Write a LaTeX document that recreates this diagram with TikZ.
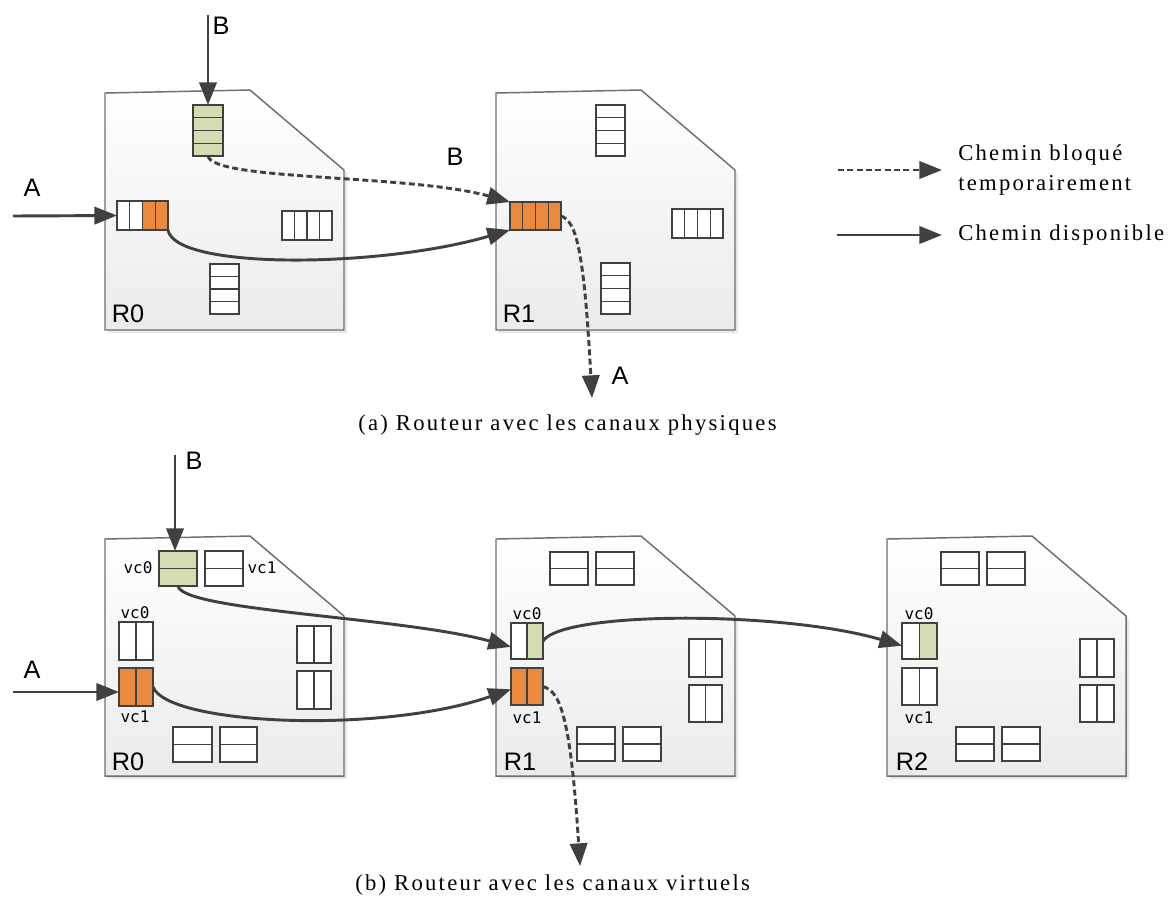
\documentclass[tikz,border=0pt]{standalone}
\usepackage{fontspec}
\setmainfont{Liberation Serif}
\newfontfamily\lblfont{Liberation Sans}
\newfontfamily\vcfont{DejaVu Sans Mono}
\newfontfamily\capfont[LetterSpace=10]{Liberation Serif}
\usetikzlibrary{calc,fit,arrows.meta}

\definecolor{qorange}{HTML}{EB8A3E}
\definecolor{qgreen}{HTML}{D4DCB2}
\definecolor{qline}{HTML}{404040}
\definecolor{rline}{HTML}{6E6E6E}
\definecolor{arr}{HTML}{404040}

% side-by-side cells: #1 number, #2 first filled cell, #3 colour
\newcommand\colcells[3]{%
  \foreach \k in {1,...,#1}{%
    \ifnum\k<#2\relax\else
      \fill[#3] ($(path picture bounding box.south west)!{(\k-1)/#1}!(path picture bounding box.south east)$) rectangle ($(path picture bounding box.north west)!{\k/#1}!(path picture bounding box.north east)$);%
    \fi}%
  \foreach \k in {2,...,#1}{%
    \draw[qdiv] ($(path picture bounding box.south west)!{(\k-1)/#1}!(path picture bounding box.south east)$) -- ($(path picture bounding box.north west)!{(\k-1)/#1}!(path picture bounding box.north east)$);}%
}
% stacked cells
\newcommand\rowcells[3]{%
  \foreach \k in {1,...,#1}{%
    \ifnum\k<#2\relax\else
      \fill[#3] ($(path picture bounding box.north west)!{(\k-1)/#1}!(path picture bounding box.south west)$) rectangle ($(path picture bounding box.north east)!{\k/#1}!(path picture bounding box.south east)$);%
    \fi}%
  \foreach \k in {2,...,#1}{%
    \draw[qdiv] ($(path picture bounding box.north west)!{(\k-1)/#1}!(path picture bounding box.south west)$) -- ($(path picture bounding box.north east)!{(\k-1)/#1}!(path picture bounding box.south east)$);}%
}
\newcommand\routershape[2]{%
  \begin{scope}[shift={(#1,#2)}]
    \fill[black!9,shift={(3,3)}] (0,0) -- (145,-3) -- (239,77) -- (239,237) -- (0,237) -- cycle;
    \path[router] (0,0) -- (145,-3) -- (239,77) -- (239,237) -- (0,237) -- cycle;
  \end{scope}}

\tikzset{
  router/.style={draw=rline, line width=1.1pt, top color=white, bottom color=black!8},
  qb/.style={draw=qline, line width=1.3pt, fill=white, inner sep=0pt, outer sep=0pt},
  qdiv/.style={qline, line width=1.1pt},
  cols/.style n args={3}{path picture={\colcells{#1}{#2}{#3}}},
  rows/.style n args={3}{path picture={\rowcells{#1}{#2}{#3}}},
  conn/.style={draw=arr, line width=2.2pt, -{Triangle[length=17pt,width=13pt]}},
  blocked/.style={conn, dash pattern=on 4.5pt off 2.5pt},
  lbl/.style={font=\lblfont\fontsize{19}{22}\selectfont, inner sep=0pt},
  vc/.style={font=\vcfont\fontsize{12}{14}\selectfont, inner sep=0pt},
  capt/.style={font=\capfont\fontsize{17}{22.5}\selectfont, inner sep=0pt, anchor=west},
}

\begin{document}
\begin{tikzpicture}[x=0.75pt,y=-0.75pt]
\useasboundingbox (0,0) rectangle (1173,901);

% ---------- routers ----------
\routershape{105}{93}
\routershape{496}{93}
\routershape{105}{539}
\routershape{496}{539}
\routershape{887}{539}

% ---------- (a) queues ----------
\node[qb, rows={4}{1}{qgreen}, fit={(193,105)(223,156)}] (g0) {};
\node[qb, cols={4}{3}{qorange}, fit={(117,201)(168,230)}] (a0) {};
\node[qb, cols={4}{9}{white}, fit={(282,211)(332,240)}] (r0e) {};
\node[qb, rows={4}{9}{white}, fit={(210,264)(239,314)}] (r0s) {};

\node[qb, rows={4}{9}{white}, fit={(596,105)(625,156)}] (r1n) {};
\node[qb, cols={4}{1}{qorange}, fit={(510,202)(561,230)}] (o1) {};
\node[qb, cols={4}{9}{white}, fit={(672,209)(723,238)}] (r1e) {};
\node[qb, rows={4}{9}{white}, fit={(601,263)(630,314)}] (r1s) {};

% ---------- (b) queues ----------
\node[qb, rows={2}{1}{qgreen}, fit={(159,551)(197,586)}] (gb0) {};
\node[qb, rows={2}{9}{white}, fit={(205,551)(243,586)}] (b0n2) {};
\node[qb, cols={2}{9}{white}, fit={(119,622)(153,660)}] (b0v0) {};
\node[qb, cols={2}{1}{qorange}, fit={(119,668)(153,706)}] (b0v1) {};
\node[qb, cols={2}{9}{white}, fit={(297,626)(331,663)}] (b0e1) {};
\node[qb, cols={2}{9}{white}, fit={(297,671)(331,709)}] (b0e2) {};
\node[qb, rows={2}{9}{white}, fit={(173,727)(212,762)}] (b0s1) {};
\node[qb, rows={2}{9}{white}, fit={(220,727)(257,762)}] (b0s2) {};

\node[qb, rows={2}{9}{white}, fit={(550,552)(588,585)}] (b1n1) {};
\node[qb, rows={2}{9}{white}, fit={(596,552)(634,585)}] (b1n2) {};
\node[qb, cols={2}{2}{qgreen}, fit={(511,623)(543,659)}] (b1v0) {};
\node[qb, cols={2}{1}{qorange}, fit={(511,668)(543,705)}] (b1v1) {};
\node[qb, cols={2}{9}{white}, fit={(689,639)(722,677)}] (b1e1) {};
\node[qb, cols={2}{9}{white}, fit={(689,685)(722,722)}] (b1e2) {};
\node[qb, rows={2}{9}{white}, fit={(577,727)(615,761)}] (b1s1) {};
\node[qb, rows={2}{9}{white}, fit={(623,727)(661,761)}] (b1s2) {};

\node[qb, rows={2}{9}{white}, fit={(941,552)(979,585)}] (b2n1) {};
\node[qb, rows={2}{9}{white}, fit={(987,552)(1025,585)}] (b2n2) {};
\node[qb, cols={2}{2}{qgreen}, fit={(902,623)(937,659)}] (b2v0) {};
\node[qb, cols={2}{9}{white}, fit={(902,668)(937,705)}] (b2v1) {};
\node[qb, cols={2}{9}{white}, fit={(1080,639)(1114,677)}] (b2e1) {};
\node[qb, cols={2}{9}{white}, fit={(1080,685)(1114,722)}] (b2e2) {};
\node[qb, rows={2}{9}{white}, fit={(956,727)(994,761)}] (b2s1) {};
\node[qb, rows={2}{9}{white}, fit={(1002,727)(1040,761)}] (b2s2) {};

% ---------- free ends ----------
\coordinate (Bin) at (208,15);
\coordinate (Ain) at (13,216);
\coordinate (Aout) at (592,398);
\coordinate (Bin2) at (175,455);
\coordinate (Ain2) at (13,692);
\coordinate (Aout2) at (580,866);
\coordinate (L1a) at (838,170);
\coordinate (L1b) at (942,170);
\coordinate (L2a) at (837,235);
\coordinate (L2b) at (942,235);

% ---------- connectors (a) ----------
\draw[conn] (Bin) -- (g0.north);
\draw[conn] (Ain) -- (a0.west);
\draw[blocked] (g0.south) .. controls +(5,25) and +(-100,-28) .. (o1.north west);
\draw[conn] (a0.south east) .. controls +(7,40) and +(-130,38) .. (o1.south west);
\draw[blocked] (o1.east) .. controls +(15,5) and +(-8,-150) .. (Aout);

% ---------- connectors (b) ----------
\draw[conn] (Bin2) -- (Bin2 |- gb0.north);
\draw[conn] (Ain2) -- (Ain2 -| b0v1.west);
\draw[conn] (gb0.south) .. controls +(5,25) and +(-110,-30) .. (b1v0.200);
\draw[conn] (b0v1.east) .. controls +(15,38) and +(-130,45) .. (b1v1.190);
\draw[blocked] (b1v1.east) .. controls +(15,5) and +(-10,-160) .. (Aout2);
\draw[conn] (b1v0.east) .. controls +(20,-30) and +(-120,-35) .. (b2v0.195);

% ---------- legend ----------
\draw[blocked] (L1a) -- (L1b);
\draw[conn] (L2a) -- (L2b);
\node[capt, align=left] (lg1) at (958,170) {Chemin bloqué\\temporairement};
\node[capt] (lg2) at (958,235) {Chemin disponible};

% ---------- labels (a) ----------
\node[lbl] (tB) at (221,26) {B};
\node[lbl] (tA) at (32,188) {A};
\node[lbl] (tR0) at (128,314) {R0};
\node[lbl] (tB1) at (455,157) {B};
\node[lbl] (tR1) at (519,314) {R1};
\node[lbl] (tA1) at (620,376) {A};
\node[capt] (capa) at (358,425) {(a) Routeur avec les canaux physiques};

% ---------- labels (b) ----------
\node[lbl] (uB) at (194,461) {B};
\node[lbl] (uA) at (32,670) {A};
\node[lbl] (uR0) at (128,762) {R0};
\node[lbl] (uR1) at (520,762) {R1};
\node[lbl] (uR2) at (912,762) {R2};
\node[vc] (v1) at (138,568) {vc0};
\node[vc] (v2) at (262,568) {vc1};
\node[vc] (v3) at (135,613) {vc0};
\node[vc] (v4) at (135,717) {vc1};
\node[vc] (v5) at (527,614) {vc0};
\node[vc] (v6) at (527,718) {vc1};
\node[vc] (v7) at (919,614) {vc0};
\node[vc] (v8) at (919,718) {vc1};
\node[capt] (capb) at (355,885) {(b) Routeur avec les canaux virtuels};
\end{tikzpicture}
\end{document}
